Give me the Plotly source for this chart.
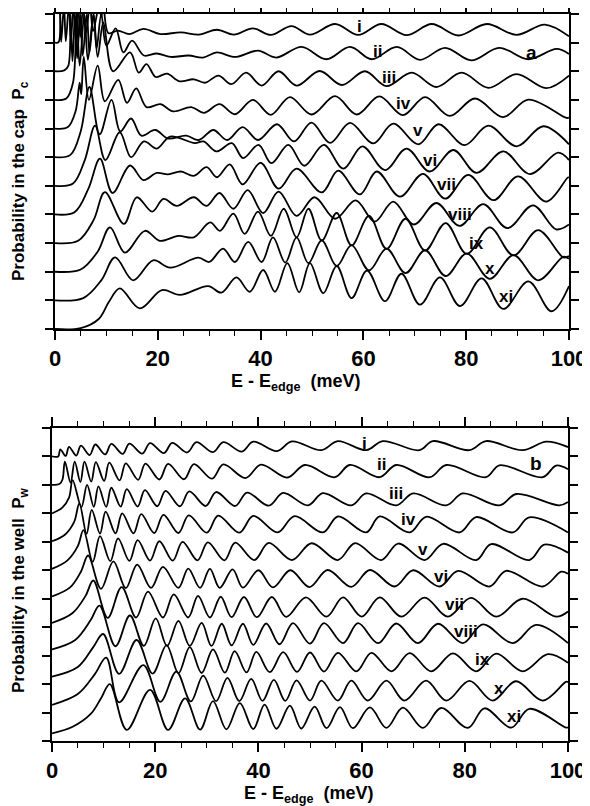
import plotly.graph_objects as go

# ---------------- data: probability in the cap (panel a), values in tick units ----------------
cap_i = [(0,0),(0.7,0.02),(0.95,1.3),(1.2,0.03),(1.75,1.3),(2.1,0.05),(2.7,1.3),(3.1,0.1),(3.6,1.3),(4.0,0.15),
         (4.5,1.3),(4.9,0.2),(5.5,1.3),(6.0,0.3),(6.8,1.3),(7.4,0.4),(8.6,1.3),(9.0,0.9),(9.4,1.3),(10.4,0.33),
         (12.2,0.42),(14.5,0.3),(17.2,0.48),(20.5,0.3),(24.5,0.36),(28.0,0.28),(31.5,0.45),(34.8,0.28),(38.5,0.5),
         (42.0,0.27),(46.0,0.58),(49.6,0.28),(54.5,0.65),(59.0,0.27),(63.5,0.65),(68.4,0.26),(73.3,0.65),(78.5,0.25),
         (84.0,0.65),(89.8,0.27),(95.3,0.63),(100,0.22)]
cap_ii = [(0,0),(1.8,0.03),(2.6,0.2),(3.0,2.0),(3.4,0.35),(3.9,2.0),(4.3,0.45),(4.9,2.0),(5.4,0.55),(6.2,2.0),
          (6.7,0.65),(7.5,2.0),(8.1,0.8),(9.0,2.0),(10.0,0.9),(11.8,1.5),(13.3,0.66),(15.0,1.07),(17.3,0.55),
          (19.8,0.62),(22.5,0.5),(26.0,0.55),(28.8,0.48),(31.5,0.66),(35.0,0.5),(39.5,0.72),(43.0,0.48),(48.0,0.85),
          (52.8,0.42),(57.4,0.85),(61.6,0.42),(66.5,0.85),(71.0,0.4),(75.9,0.82),(81.0,0.38),(86.4,0.82),(92.1,0.42),
          (97.6,0.78),(100,0.6)]
cap_iii = [(0,0),(2.2,0.05),(3.5,0.6),(4.2,3.0),(4.8,1.2),(5.7,3.0),(6.4,1.4),(7.5,3.0),(8.3,1.5),(9.4,2.7),
           (11.3,1.0),(14.6,1.66),(16.3,0.95),(17.8,1.25),(19.6,0.8),(21.8,0.92),(24.2,0.65),(27.0,0.72),(29.2,0.6),
           (31.8,0.85),(34.3,0.55),(37.2,0.95),(40.2,0.5),(43.5,1.0),(47.0,0.5),(51.5,1.01),(55.8,0.52),(60.3,1.0),
           (64.5,0.48),(69.4,0.95),(74.2,0.45),(79.1,0.95),(84.3,0.42),(89.8,0.9),(95.6,0.41),(100,0.85)]
cap_iv = [(0,0),(2.5,0.05),(4.0,0.6),(4.8,1.6),(5.1,1.2),(5.6,2.5),(6.6,1.0),(8.3,2.2),(9.7,0.95),(12.3,1.7),
          (14.0,0.9),(15.8,1.4),(17.8,0.75),(20.5,0.85),(23.0,0.6),(26.5,0.75),(29.0,0.55),(32.0,0.85),(35.0,0.5),
          (38.5,1.0),(42.0,0.48),(45.7,1.1),(49.9,0.49),(54.5,1.13),(58.7,0.49),(63.1,1.12),(67.7,0.47),(72.0,1.1),
          (76.8,0.44),(81.7,1.05),(87.2,0.4),(92.1,1.01),(99.5,0.37),(100,0.38)]
cap_v = [(0,0),(3.0,0.08),(5.0,0.9),(6.7,2.45),(8.7,0.8),(11.0,2.0),(12.7,0.9),(14.8,1.35),(16.8,0.75),(19.5,0.95),
         (22.0,0.65),(25.5,0.75),(28.0,0.6),(30.8,0.95),(33.5,0.6),(36.5,1.05),(39.5,0.6),(43.2,1.15),(46.5,0.55),
         (49.9,1.21),(53.5,0.5),(57.4,1.2),(61.9,0.48),(65.8,1.17),(70.7,0.45),(74.6,1.15),(79.7,0.42),(84.3,1.1),
         (89.8,0.38),(95.0,1.08),(100,0.45)]
cap_vi = [(0,0),(3.5,0.08),(5.8,0.9),(7.8,2.1),(9.8,0.9),(12.6,1.87),(14.8,1.0),(17.3,1.55),(19.8,1.3),(22.4,1.72),
          (27.2,1.49),(28.9,1.55),(31.4,1.2),(34.4,1.49),(36.6,0.97),(39.6,1.43),(42.1,0.79),(45.4,1.43),(48.5,0.7),
          (52.3,1.43),(56.1,0.6),(59.8,1.38),(64.2,0.55),(68.4,1.3),(72.9,0.5),(77.5,1.25),(82.0,0.45),(87.2,1.2),
          (92.4,0.41),(97.9,1.16),(100,0.9)]
cap_vii = [(0,0),(3.8,0.08),(6.5,0.9),(8.75,1.95),(11.2,0.75),(14.6,1.71),(17.2,1.2),(19.8,1.45),(22.0,1.4),
           (24.5,1.5),(27.0,1.35),(29.5,1.65),(31.5,1.3),(34.0,1.75),(36.5,1.05),(40.0,1.8),(43.5,0.9),(47.0,1.6),
           (51.9,0.77),(55.1,1.53),(59.3,0.7),(62.6,1.5),(67.1,0.62),(71.6,1.42),(75.9,0.55),(80.4,1.38),(85.3,0.5),
           (90.1,1.33),(95.6,0.45),(99.8,1.29),(100,1.28)]
cap_viii = [(0,0),(4.5,0.08),(7.5,0.8),(9.7,1.78),(13.4,0.67),(15.9,1.6),(18.9,1.1),(21.1,1.54),(23.7,1.3),
            (27.0,1.6),(29.5,1.3),(32.0,1.75),(34.7,1.2),(37.5,1.85),(40.5,1.05),(43.5,1.8),(47.0,0.95),(50.5,1.6),
            (54.5,0.85),(58.5,1.49),(62.2,0.75),(65.8,1.45),(69.8,0.65),(74.2,1.4),(78.7,0.6),(83.3,1.36),(88.0,0.52),
            (93.0,1.32),(97.5,0.48),(100,0.65)]
cap_ix = [(0,0),(5.0,0.08),(8.3,0.7),(10.7,1.55),(13.6,0.67),(17.5,1.43),(20.4,1.08),(24.0,1.25),(27.0,1.2),
          (30.2,1.72),(32.1,1.43),(34.7,2.03),(36.9,1.32),(39.5,2.1),(42.0,1.25),(44.5,2.2),(47.0,1.2),(49.3,2.2),
          (51.9,1.09),(54.8,2.05),(57.7,0.92),(61.1,1.95),(64.5,0.8),(68.2,1.85),(72.0,0.74),(76.0,1.7),(80.1,0.62),
          (84.6,1.55),(89.2,0.57),(94.0,1.45),(98.9,0.5),(100,0.55)]
cap_x = [(0,0),(5.5,0.08),(9.0,0.7),(11.7,1.5),(15.2,0.7),(19.1,1.4),(22.4,1.14),(27.9,1.49),(30.0,1.34),
         (32.7,1.81),(35.0,1.34),(37.6,2.04),(40.2,1.34),(42.4,2.2),(44.8,1.32),(47.0,2.2),(49.3,1.3),(51.9,2.1),
         (54.8,1.2),(57.7,1.93),(61.1,1.05),(64.5,1.81),(68.2,0.95),(72.0,1.75),(76.0,0.85),(80.1,1.64),(84.6,0.75),
         (89.2,1.58),(94.0,0.7),(98.9,1.52),(100,1.45)]
cap_xi = [(0,0),(5.0,0.03),(8.5,0.35),(10.5,0.95),(12.6,1.42),(16.5,0.72),(20.8,1.36),(24.3,1.19),(29.8,1.5),
          (32.4,1.27),(35.3,1.8),(37.9,1.3),(40.5,2.06),(42.8,1.3),(45.2,2.3),(47.5,1.28),(49.6,2.3),(52.2,1.25),
          (54.8,2.2),(57.7,1.08),(60.7,2.04),(64.2,0.97),(67.4,1.93),(71.0,0.85),(74.9,1.8),(78.8,0.8),(83.0,1.77),
          (87.2,0.7),(92.1,1.66),(96.6,0.62),(100,1.5)]

# ---------------- data: probability in the well (panel b): peaks and remaining points ----------------
well_i_pk = [(1.6,0.25),(3.3,0.34),(5.6,0.38),(8.4,0.42),(11.5,0.44),(15.0,0.45),(19.0,0.47),(23.3,0.48),(28.0,0.50),
             (33.2,0.50),(39.0,0.52),(46.5,0.53),(55.4,0.54),(64.1,0.54),(73.8,0.54),(84.1,0.54),(95.8,0.52)]
well_i_tr = [(0,0.0),(1.2,0.0),(2.65,0.02),(4.7,0.03),(7.3,0.05),(10.3,0.07),(13.7,0.09),(17.5,0.10),(21.7,0.12),
             (26.2,0.14),(31.2,0.15),(36.8,0.17),(43.6,0.19),(52.2,0.22),(60.9,0.22),(71.2,0.22),(80.9,0.22),
             (91.2,0.22),(100,0.33)]
well_ii_pk = [(2.5,0.82),(4.4,0.82),(6.3,0.82),(8.5,0.80),(11.1,0.78),(14.3,0.76),(18.1,0.75),(22.5,0.74),(27.5,0.73),
              (33.2,0.72),(40.5,0.71),(49.0,0.70),(57.7,0.70),(66.7,0.70),(76.4,0.70),(86.7,0.69),(97.7,0.68)]
well_ii_tr = [(0,0.0),(1.5,0.04),(2.05,0.2),(3.6,0.08),(5.5,0.10),(7.6,0.12),(10.1,0.14),(13.1,0.16),(16.7,0.18),
              (20.8,0.19),(25.6,0.20),(31.0,0.22),(37.5,0.24),(45.6,0.26),(54.8,0.27),(63.5,0.27),(73.2,0.27),
              (84.1,0.27),(95.1,0.27),(100,0.55)]
well_iii_pk = [(4.0,1.17),(6.8,1.0),(9.0,0.95),(11.5,0.9),(14.5,0.85),(18.0,0.82),(22.0,0.79),(26.6,0.77),(31.8,0.75),
               (37.8,0.73),(44.8,0.72),(52.5,0.71),(60.9,0.70),(70.0,0.70),(79.6,0.70),(90.0,0.68)]
well_iii_tr = [(0,0.0),(2.0,0.2),(3.3,0.55),(5.7,0.22),(8.1,0.23),(10.5,0.23),(13.3,0.24),(16.6,0.24),(20.4,0.25),
               (24.8,0.25),(29.8,0.26),(35.5,0.26),(42.0,0.27),(49.6,0.28),(58.0,0.28),(66.7,0.28),(76.4,0.28),
               (86.7,0.28),(98.3,0.28),(100,0.4)]
well_iv_pk = [(5.3,1.35),(7.7,1.12),(10.4,1.06),(13.6,1.0),(17.3,0.97),(21.6,0.95),(26.5,0.93),(32.2,0.92),(39.0,0.91),
              (47.0,0.90),(55.4,0.89),(63.5,0.89),(72.5,0.88),(82.2,0.87),(92.5,0.86)]
well_iv_tr = [(0,0.02),(2.5,0.25),(4.3,0.7),(6.7,0.28),(9.3,0.29),(12.3,0.3),(15.8,0.3),(19.8,0.31),(24.5,0.31),
              (30.0,0.32),(36.3,0.32),(43.7,0.33),(52.5,0.33),(60.9,0.33),(69.3,0.33),(79.0,0.33),(89.3,0.33),(100,0.33)]
well_v_pk = [(6.1,1.41),(9.3,1.2),(12.8,1.12),(16.6,1.06),(20.8,1.02),(25.3,1.0),(30.2,0.98),(35.5,0.97),(42.0,0.96),
             (50.3,0.95),(58.7,0.95),(67.1,0.94),(75.8,0.93),(85.1,0.92),(95.4,0.90)]
well_v_tr = [(0,0.05),(3.0,0.35),(5.0,0.85),(7.9,0.3),(11.3,0.32),(15.0,0.33),(19.0,0.34),(23.4,0.34),(28.2,0.35),
             (33.4,0.35),(39.2,0.36),(46.5,0.36),(55.4,0.36),(63.8,0.36),(72.2,0.36),(82.2,0.36),(92.5,0.36),(100,0.62)]
well_vi_pk = [(7.0,1.52),(11.9,1.31),(16.5,1.2),(21.5,1.12),(26.4,1.06),(30.6,1.05),(35.0,1.03),(40.0,1.0),(46.2,1.0),
              (53.4,1.01),(61.6,1.01),(70.0,1.0),(78.7,0.98),(88.0,0.98),(98.7,0.95)]
well_vi_tr = [(0,0.08),(3.5,0.4),(5.6,0.95),(9.5,0.35),(14.3,0.37),(19.2,0.38),(24.5,0.38),(28.7,0.38),(32.5,0.38),
              (37.0,0.39),(42.8,0.4),(49.9,0.41),(58.0,0.42),(66.4,0.43),(75.1,0.43),(84.8,0.43),(95.1,0.43),(100,0.88)]
well_vii_pk = [(8.0,1.64),(13.5,1.41),(18.6,1.25),(23.6,1.15),(28.3,1.1),(32.7,1.07),(37.2,1.06),(42.6,1.06),(49.2,1.05),
               (56.4,1.05),(63.5,1.05),(72.2,1.04),(81.2,1.03),(91.2,1.0)]
well_vii_tr = [(0,0.15),(4.0,0.5),(6.5,1.1),(10.8,0.33),(16.3,0.34),(21.5,0.34),(26.4,0.34),(30.6,0.34),(34.8,0.35),
               (39.7,0.35),(45.4,0.36),(53.2,0.37),(60.0,0.37),(67.7,0.37),(76.7,0.37),(86.1,0.37),(97.7,0.37),(100,0.55)]
well_viii_pk = [(9.2,1.76),(15.1,1.41),(20.1,1.31),(24.5,1.22),(29.0,1.15),(32.9,1.12),(37.0,1.12),(41.5,1.13),
                (46.7,1.14),(52.7,1.14),(59.3,1.14),(66.7,1.13),(74.8,1.12),(83.5,1.1),(93.8,1.08)]
well_viii_tr = [(0,0.22),(4.5,0.55),(7.5,1.25),(12.3,0.33),(17.8,0.34),(22.3,0.34),(26.7,0.34),(30.9,0.34),(34.8,0.36),
                (39.0,0.38),(44.1,0.4),(50.0,0.42),(56.4,0.44),(63.2,0.44),(70.9,0.44),(79.6,0.44),(89.3,0.44),(100,0.44)]
well_ix_pk = [(9.9,1.76),(16.4,1.55),(22.2,1.37),(26.7,1.3),(31.2,1.22),(35.4,1.16),(39.6,1.13),(44.8,1.12),(50.0,1.11),
              (55.4,1.1),(61.9,1.1),(69.3,1.09),(77.7,1.08),(86.1,1.07),(96.1,1.05)]
well_ix_tr = [(0,0.26),(5.0,0.6),(8.0,1.3),(13.0,0.36),(19.5,0.37),(24.5,0.38),(29.0,0.39),(33.5,0.4),(37.7,0.41),
              (42.2,0.42),(47.5,0.43),(52.7,0.44),(59.0,0.45),(65.8,0.45),(73.5,0.45),(82.2,0.45),(91.2,0.45),(100,0.75)]
well_x_pk = [(10.5,1.93),(17.7,1.67),(24.1,1.44),(29.3,1.3),(34.0,1.22),(38.6,1.18),(43.0,1.15),(47.4,1.13),(52.2,1.12),
             (58.0,1.12),(64.8,1.12),(72.5,1.12),(80.9,1.11),(89.9,1.1),(99.6,1.08)]
well_x_tr = [(0,0.27),(5.0,0.65),(8.3,1.35),(13.0,0.36),(21.0,0.38),(26.9,0.39),(31.8,0.4),(36.3,0.4),(40.8,0.41),
             (45.2,0.41),(50.0,0.42),(55.4,0.42),(61.2,0.42),(68.3,0.42),(76.4,0.42),(85.4,0.42),(95.1,0.42),(100,1.07)]
well_xi_pk = [(11.2,2.0),(19.0,1.8),(25.8,1.5),(31.2,1.4),(36.4,1.33),(41.2,1.28),(46.1,1.24),(50.9,1.21),(55.8,1.19),
              (61.6,1.18),(68.0,1.17),(75.4,1.16),(83.8,1.15),(92.5,1.13)]
well_xi_tr = [(0,0.27),(4.0,0.5),(7.5,0.95),(9.5,1.5),(14.5,0.39),(22.5,0.39),(28.7,0.4),(33.8,0.41),(39.0,0.42),
              (43.5,0.43),(48.3,0.44),(53.2,0.45),(58.3,0.45),(64.8,0.46),(71.9,0.46),(80.6,0.46),(89.0,0.47),
              (99.6,0.47),(100,0.48)]

curve_labels = ["i", "ii", "iii", "iv", "v", "vi", "vii", "viii", "ix", "x", "xi"]
cap_label_E = [59.3, 62.7, 64.9, 67.8, 70.7, 73.0, 76.2, 78.8, 82.0, 84.6, 87.7]
cap_label_Y = [10.56, 9.70, 8.80, 7.87, 6.93, 5.88, 5.04, 3.99, 3.00, 2.13, 1.13]
well_label_E = [60.6, 63.8, 66.7, 69.0, 71.9, 75.4, 78.0, 80.3, 83.5, 86.7, 89.6]
well_label_Y = [10.47, 9.71, 8.71, 7.77, 6.72, 5.78, 4.78, 3.85, 2.85, 1.85, 0.86]
x_ticks = [0, 20, 40, 60, 80, 100]

cap_curves = [cap_i, cap_ii, cap_iii, cap_iv, cap_v, cap_vi, cap_vii, cap_viii, cap_ix, cap_x, cap_xi]
well_curves = [(well_i_pk, well_i_tr), (well_ii_pk, well_ii_tr), (well_iii_pk, well_iii_tr),
               (well_iv_pk, well_iv_tr), (well_v_pk, well_v_tr), (well_vi_pk, well_vi_tr),
               (well_vii_pk, well_vii_tr), (well_viii_pk, well_viii_tr), (well_ix_pk, well_ix_tr),
               (well_x_pk, well_x_tr), (well_xi_pk, well_xi_tr)]

FONT = "Liberation Sans"
# the page body adds an 8 px offset; the margins compensate for it
OFF = 8
ML, MR, MT, MB = 52 - OFF, 21 + OFF, 14 - OFF, 65 + OFF
PW = 590 - ML - MR          # plot width in px
PH = 806 - MT - MB          # plot height in px
BOT = 806 - MB              # px (in figure) of the plot-area bottom

def px_x(px):   # reference page px -> paper x
    return (px - OFF - ML) / PW

def px_y(py):   # reference page px -> paper y
    return (BOT - (py - OFF)) / PH

fig = go.Figure()
line = dict(color="black", width=1.8, shape="spline", smoothing=1.0)

for k, pts in enumerate(cap_curves):
    off = 10 - k
    fig.add_trace(go.Scatter(x=[p[0] for p in pts], y=[p[1] + off for p in pts], mode="lines",
                             line=line, xaxis="x", yaxis="y", showlegend=False, hoverinfo="skip"))

for k, (pk, tr) in enumerate(well_curves):
    off = 10 - k
    pts = sorted(pk + tr)
    fig.add_trace(go.Scatter(x=[p[0] for p in pts], y=[p[1] + off for p in pts], mode="lines",
                             line=line, xaxis="x2", yaxis="y2", showlegend=False, hoverinfo="skip"))

xcommon = dict(range=[0, 100], tickvals=x_ticks, ticks="outside", ticklen=9, tickwidth=1.6,
               showline=True, linewidth=1.6, linecolor="black", mirror="allticks", showgrid=False,
               zeroline=False, tickcolor="black", automargin=False,
               minor=dict(dtick=5, ticks="outside", ticklen=5, tickwidth=1.3, tickcolor="black"),
               tickfont=dict(family=FONT, size=22, color="black", weight="bold"), ticklabelstandoff=0)
ycommon = dict(range=[0, 11], tickvals=list(range(12)), ticks="outside", ticklen=8, tickwidth=1.6,
               showline=True, linewidth=1.6, linecolor="black", mirror="ticks", showgrid=False,
               zeroline=False, showticklabels=False, tickcolor="black", automargin=False)

fig.update_layout(
    width=590, height=806, paper_bgcolor="white", plot_bgcolor="white",
    margin=dict(l=ML, r=MR, t=MT, b=MB, autoexpand=False),
    xaxis=dict(domain=[px_x(55), px_x(569)], anchor="y", **xcommon),
    yaxis=dict(domain=[px_y(329), px_y(14)], anchor="x", **ycommon),
    xaxis2=dict(domain=[px_x(52), px_x(568)], anchor="y2", **xcommon),
    yaxis2=dict(domain=[px_y(741), px_y(428)], anchor="x2", **ycommon),
)

ann = []
lab_font = dict(family=FONT, size=17, color="black", weight="bold")
for name, e, y in zip(curve_labels, cap_label_E, cap_label_Y):
    ann.append(dict(x=e, y=y, xref="x", yref="y", text=name, showarrow=False, font=lab_font))
for name, e, y in zip(curve_labels, well_label_E, well_label_Y):
    ann.append(dict(x=e, y=y, xref="x2", yref="y2", text=name, showarrow=False, font=lab_font))
ann.append(dict(x=92.7, y=9.64, xref="x", yref="y", text="a", showarrow=False,
                font=dict(family=FONT, size=19, color="black", weight="bold")))
ann.append(dict(x=93.8, y=9.77, xref="x2", yref="y2", text="b", showarrow=False,
                font=dict(family=FONT, size=19, color="black", weight="bold")))

ytitle_font = dict(family=FONT, size=17, color="black", weight="bold")
xtitle_font = dict(family=FONT, size=18, color="black", weight="bold")
ann.append(dict(x=px_x(20), y=px_y(181), xref="paper", yref="paper", textangle=-90,
                xanchor="center", yanchor="middle",
                text="Probability in the cap  P<sub>c</sub>", showarrow=False, font=ytitle_font))
ann.append(dict(x=px_x(20), y=px_y(590), xref="paper", yref="paper", textangle=-90,
                xanchor="center", yanchor="middle",
                text="Probability in the well  P<sub>w</sub>", showarrow=False, font=ytitle_font))
ann.append(dict(x=px_x(295), y=px_y(382), xref="paper", yref="paper",
                xanchor="center", yanchor="middle",
                text="E - E<sub>edge</sub>  (meV)", showarrow=False, font=xtitle_font))
ann.append(dict(x=px_x(308), y=px_y(794), xref="paper", yref="paper",
                xanchor="center", yanchor="middle",
                text="E - E<sub>edge</sub>  (meV)", showarrow=False, font=xtitle_font))
fig.update_layout(annotations=ann)

fig.write_html("out.html")
